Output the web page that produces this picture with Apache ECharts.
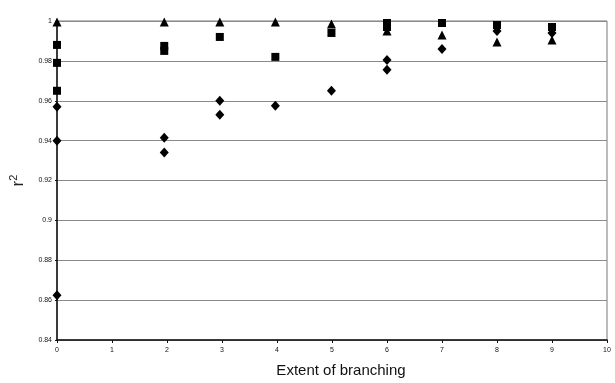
<!DOCTYPE html>
<html>
<head>
<meta charset="utf-8">
<script src="https://cdn.jsdelivr.net/npm/echarts@6/dist/echarts.min.js"></script>
<style>
  html, body { margin: 0; padding: 0; background: #fff; }
  #chart { width: 615px; height: 383px; }
</style>
</head>
<body>
<div id="chart"></div>
<script>
// r^2 against extent of branching, three data sets
const triangleX = [0, 1.95, 2.96, 3.97, 4.99, 6, 7, 8, 9];
const triangleY = [0.9995, 0.9995, 0.9995, 0.9995, 0.9985, 0.995, 0.993, 0.9895, 0.9905];

const squareX = [0, 0, 0, 1.95, 1.95, 2.96, 3.97, 4.99, 6, 6, 7, 8, 9];
const squareY = [0.988, 0.979, 0.965, 0.9875, 0.985, 0.992, 0.982, 0.994, 0.999, 0.997, 0.999, 0.998, 0.997];

const diamondX = [0, 0, 0, 1.95, 1.95, 2.96, 2.96, 3.97, 4.99, 6, 6, 7, 8, 9];
const diamondY = [0.957, 0.94, 0.8625, 0.9415, 0.934, 0.960, 0.953, 0.9575, 0.965, 0.9805, 0.9755, 0.986, 0.995, 0.994];

const xTicks = [0, 1, 2, 3, 4, 5, 6, 7, 8, 9, 10];
const yTicks = [0.84, 0.86, 0.88, 0.9, 0.92, 0.94, 0.96, 0.98, 1];

const pairs = (xs, ys) => xs.map((x, i) => [x, ys[i]]);

const font = '"Liberation Sans", Arial, sans-serif';
const chart = echarts.init(document.getElementById('chart'), null, { renderer: 'canvas' });

chart.setOption({
  animation: false,
  backgroundColor: '#fff',
  grid: {
    left: 56, right: 8, top: 21, bottom: 42,
    show: true, borderColor: '#777', borderWidth: 1
  },
  xAxis: {
    type: 'value',
    min: xTicks[0], max: xTicks[xTicks.length - 1], interval: 1,
    name: 'Extent of branching',
    nameLocation: 'middle',
    nameGap: 23,
    nameTextStyle: { fontFamily: font, fontSize: 15, color: '#111', padding: [0, 0, 0, 18] },
    axisLine: { show: true, lineStyle: { color: '#111', width: 1.5 } },
    axisTick: { show: true, length: 3, lineStyle: { color: '#111' } },
    axisLabel: { fontFamily: font, fontSize: 7, color: '#111', margin: 7 },
    splitLine: { show: false }
  },
  yAxis: {
    type: 'value',
    min: yTicks[0], max: yTicks[yTicks.length - 1], interval: 0.02,
    name: '{r|r}{s|2}',
    nameLocation: 'middle',
    nameRotate: 90,
    nameGap: 29,
    nameTextStyle: {
      fontFamily: font, color: '#222',
      rich: {
        r: { fontFamily: font, fontSize: 17, color: '#222' },
        s: { fontFamily: font, fontSize: 11, color: '#222', verticalAlign: 'bottom', padding: [0, 0, 9, 0] }
      }
    },
    axisLine: { show: true, lineStyle: { color: '#111', width: 1.5 } },
    axisTick: { show: true, length: 2, lineStyle: { color: '#111' } },
    axisLabel: {
      fontFamily: font, fontSize: 7, color: '#111', margin: 5,
      formatter: v => String(Math.round(v * 100) / 100)
    },
    splitLine: { show: true, lineStyle: { color: '#8a8a8a', width: 1 } }
  },
  series: [
    {
      name: 'triangle', type: 'scatter', symbol: 'triangle', symbolSize: 9,
      itemStyle: { color: '#000', opacity: 1 }, data: pairs(triangleX, triangleY), z: 2
    },
    {
      name: 'diamond', type: 'scatter', symbol: 'diamond', symbolSize: [9, 10],
      itemStyle: { color: '#000', opacity: 1 }, data: pairs(diamondX, diamondY), z: 3
    },
    {
      name: 'square', type: 'scatter', symbol: 'rect', symbolSize: 8,
      itemStyle: { color: '#000', opacity: 1 }, data: pairs(squareX, squareY), z: 4
    }
  ]
});
</script>
</body>
</html>
